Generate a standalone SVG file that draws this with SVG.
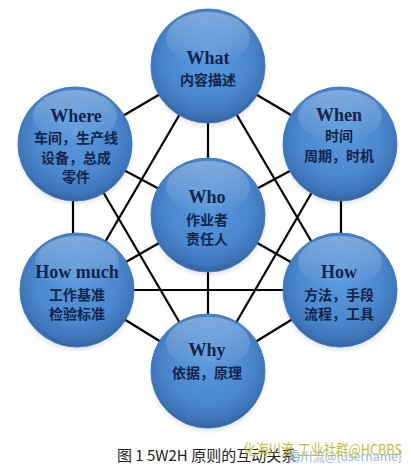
<svg xmlns="http://www.w3.org/2000/svg" width="411" height="466" viewBox="0 0 411 466">
<defs>
<radialGradient id="ball" cx="50%" cy="42%" r="58%">
<stop offset="0" stop-color="#5b99dd"/>
<stop offset="0.65" stop-color="#4a87cd"/>
<stop offset="0.9" stop-color="#3d73b7"/>
<stop offset="1" stop-color="#3062a2"/>
</radialGradient>
<linearGradient id="hl" x1="0" y1="0" x2="0" y2="1">
<stop offset="0" stop-color="#ffffff" stop-opacity="0.3"/>
<stop offset="1" stop-color="#ffffff" stop-opacity="0"/>
</linearGradient>
<radialGradient id="shadow" cx="50%" cy="50%" r="50%">
<stop offset="0.8" stop-color="#000" stop-opacity="0.22"/>
<stop offset="1" stop-color="#000" stop-opacity="0"/>
</radialGradient>
</defs>
<style>
.edge{stroke:#000;stroke-width:2.2;fill:none}
.sh{fill:url(#shadow)}
.ball{fill:url(#ball);stroke:#4079be;stroke-width:1}
.hl{fill:url(#hl)}
.t{font-family:"Liberation Serif","DejaVu Serif",serif;font-weight:bold;font-size:18px;fill:#13254a;text-anchor:middle}
.c{font-family:"Noto Sans CJK SC",sans-serif;font-weight:bold;font-size:14px;fill:#13254a;text-anchor:middle}
.cap{font-family:"Noto Sans CJK SC",sans-serif;font-size:15px;fill:#222}
.wm1{font-family:"Noto Sans CJK SC","Liberation Sans",sans-serif;font-size:14.5px;fill:#c2bb3a}
.wm2{font-family:"Noto Sans CJK SC","Liberation Sans",sans-serif;font-size:13px;fill:#8fb4e3}
</style>
<rect width="411" height="466" fill="#fff"/>
<g id="connectors">
<line class="edge" x1="208" y1="66" x2="75" y2="144"/>
<line class="edge" x1="208" y1="66" x2="340" y2="144"/>
<line class="edge" x1="208" y1="66" x2="208" y2="215"/>
<line class="edge" x1="208" y1="66" x2="77" y2="290"/>
<line class="edge" x1="208" y1="66" x2="340" y2="290"/>
<line class="edge" x1="73" y1="144" x2="73" y2="290"/>
<line class="edge" x1="341" y1="144" x2="341" y2="290"/>
<line class="edge" x1="75" y1="144" x2="208" y2="215"/>
<line class="edge" x1="340" y1="144" x2="208" y2="215"/>
<line class="edge" x1="75" y1="144" x2="208" y2="371"/>
<line class="edge" x1="340" y1="144" x2="208" y2="371"/>
<line class="edge" x1="77" y1="290" x2="340" y2="290"/>
<line class="edge" x1="77" y1="290" x2="208" y2="215"/>
<line class="edge" x1="340" y1="290" x2="208" y2="215"/>
<line class="edge" x1="77" y1="290" x2="208" y2="371"/>
<line class="edge" x1="340" y1="290" x2="208" y2="371"/>
<line class="edge" x1="208" y1="215" x2="208" y2="371"/>
</g>
<g id="what">
<ellipse class="sh" cx="208" cy="70" rx="60" ry="59"/>
<circle class="ball" cx="208" cy="66" r="57"/>
<ellipse class="hl" cx="208" cy="38" rx="42" ry="26"/>
<text class="t" x="208" y="64">What</text>
<text class="c" x="208" y="85">内容描述</text>
</g>
<g id="where">
<ellipse class="sh" cx="75" cy="148" rx="60" ry="59"/>
<circle class="ball" cx="75" cy="144" r="57"/>
<ellipse class="hl" cx="75" cy="116" rx="42" ry="26"/>
<text class="t" x="76" y="122">Where</text>
<text class="c" x="76" y="143">车间，生产线</text>
<text class="c" x="76" y="163">设备，总成</text>
<text class="c" x="76" y="182">零件</text>
</g>
<g id="when">
<ellipse class="sh" cx="340" cy="148" rx="60" ry="59"/>
<circle class="ball" cx="340" cy="144" r="57"/>
<ellipse class="hl" cx="340" cy="116" rx="42" ry="26"/>
<text class="t" x="339" y="121">When</text>
<text class="c" x="339" y="141">时间</text>
<text class="c" x="339" y="161">周期，时机</text>
</g>
<g id="who">
<ellipse class="sh" cx="208" cy="219" rx="60" ry="59"/>
<circle class="ball" cx="208" cy="215" r="57"/>
<ellipse class="hl" cx="208" cy="187" rx="42" ry="26"/>
<text class="t" x="207" y="203">Who</text>
<text class="c" x="207" y="225">作业者</text>
<text class="c" x="207" y="244">责任人</text>
</g>
<g id="howmuch">
<ellipse class="sh" cx="77" cy="294" rx="60" ry="59"/>
<circle class="ball" cx="77" cy="290" r="57"/>
<ellipse class="hl" cx="77" cy="262" rx="42" ry="26"/>
<text class="t" x="77" y="278">How much</text>
<text class="c" x="77" y="300">工作基准</text>
<text class="c" x="77" y="319">检验标准</text>
</g>
<g id="how">
<ellipse class="sh" cx="340" cy="294" rx="60" ry="59"/>
<circle class="ball" cx="340" cy="290" r="57"/>
<ellipse class="hl" cx="340" cy="262" rx="42" ry="26"/>
<text class="t" x="339" y="278">How</text>
<text class="c" x="339" y="300">方法，手段</text>
<text class="c" x="339" y="319">流程，工具</text>
</g>
<g id="why">
<ellipse class="sh" cx="208" cy="375" rx="60" ry="59"/>
<circle class="ball" cx="208" cy="371" r="57"/>
<ellipse class="hl" cx="208" cy="343" rx="42" ry="26"/>
<text class="t" x="207" y="356">Why</text>
<text class="c" x="207" y="378">依据，原理</text>
</g>
<text class="cap" x="117" y="461">图 1 5W2H 原则的互动关系</text>
<text class="wm2" x="288" y="461" textLength="114" lengthAdjust="spacingAndGlyphs">海川流@{username}</text>
<text class="wm1" x="243" y="455" textLength="159" lengthAdjust="spacingAndGlyphs">化海川流-工业社群@HCBBS</text>
</svg>
